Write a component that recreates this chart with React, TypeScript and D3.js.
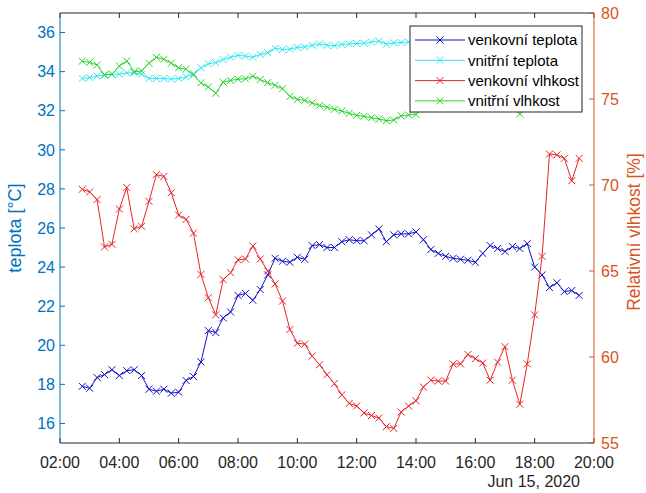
import React from "react";
import * as d3 from "d3";

// 15-minute samples starting 02:45, Jun 15 2020
const startTime = new Date(2020, 5, 15, 2, 45);
const sampleCount = 68;

const venkovniTeplota = [
  17.9, 17.8, 18.35, 18.5, 18.75, 18.45, 18.7, 18.75, 18.45, 17.75,
  17.65, 17.75, 17.55, 17.6, 18.2, 18.4, 19.15, 20.75, 20.65, 21.4,
  21.7, 22.55, 22.65, 22.3, 22.85, 23.6, 24.45, 24.3, 24.25, 24.5,
  24.4, 25.1, 25.15, 25.0, 25.0, 25.3, 25.4, 25.35, 25.35, 25.65,
  25.95, 25.3, 25.65, 25.7, 25.7, 25.8, 25.4, 24.9, 24.7, 24.55,
  24.45, 24.4, 24.35, 24.25, 24.7, 25.1, 24.95, 24.8, 25.05, 24.95,
  25.2, 24.0, 23.6, 22.95, 23.2, 22.75, 22.8, 22.55,
];

const vnitrniTeplota = [
  33.65, 33.7, 33.77, 33.82, 33.87, 33.87, 33.94, 33.94, 33.87, 33.65,
  33.65, 33.65, 33.62, 33.65, 33.73, 33.9, 34.2, 34.4, 34.46, 34.62,
  34.74, 34.83, 34.8, 34.74, 34.88, 34.97, 35.2, 35.13, 35.15, 35.24,
  35.26, 35.35, 35.42, 35.35, 35.33, 35.39, 35.42, 35.44, 35.45, 35.51,
  35.57, 35.4, 35.47, 35.49, 35.52, 35.5, 35.55, 35.5, 35.55, 35.6,
  35.55, 35.6, 35.6, 35.55, 35.6, 35.55, 35.5, 35.45, 35.4, 35.35,
  35.3, 35.2, 35.1, 35.0, 34.95, 34.9, 34.85, 34.8,
];

const venkovniVlhkost = [
  69.75, 69.6, 69.15, 66.4, 66.55, 68.6, 69.85, 67.45, 67.6, 69.05,
  70.6, 70.5, 69.55, 68.25, 68.0, 67.2, 64.8, 63.45, 62.45, 64.5,
  64.9, 65.65, 65.7, 66.45, 65.7, 65.0, 64.25, 63.25, 61.6, 60.8,
  60.75, 60.05, 59.55, 58.97, 58.45, 57.8, 57.3, 57.15, 56.75, 56.6,
  56.45, 55.95, 55.85, 56.8, 57.15, 57.45, 58.25, 58.65, 58.6, 58.6,
  59.6, 59.6, 60.15, 59.9, 59.65, 58.65, 59.7, 60.6, 58.65, 57.25,
  59.6, 62.45, 65.85, 71.8, 71.75, 71.55, 70.25, 71.55,
];

const vnitrniVlhkost = [
  77.2, 77.13, 76.98, 76.4, 76.44, 76.92, 77.21, 76.59, 76.63, 77.08,
  77.42, 77.31, 77.08, 76.82, 76.73, 76.4, 75.94, 75.7, 75.33, 75.98,
  76.08, 76.15, 76.18, 76.32, 76.13, 75.95, 75.8, 75.6, 75.15, 74.98,
  74.92, 74.77, 74.62, 74.52, 74.4, 74.3, 74.17, 74.05, 73.99, 73.91,
  73.84, 73.74, 73.78, 74.01, 74.07, 74.1, 74.5, 74.6, 74.7, 74.7,
  74.75, 74.7, 74.7, 74.65, 74.6, 74.6, 74.55, 74.5, 74.5, 74.13,
  74.5, 74.55, 74.6, 74.6, 74.65, 74.6, 74.6, 74.6,
];

const leftTicks = [16, 18, 20, 22, 24, 26, 28, 30, 32, 34, 36];
const rightTicks = [55, 60, 65, 70, 75, 80];
const xTickHours = [2, 4, 6, 8, 10, 12, 14, 16, 18, 20];
const legendLabels = ["venkovní teplota", "vnitřní teplota", "venkovní vlhkost", "vnitřní vlhkost"];
const dateLabel = "Jun 15, 2020";
const leftLabel = "teplota [°C]";
const rightLabel = "Relativní vlhkost [%]";

const FONT = "'Liberation Sans', Arial, Helvetica, sans-serif";
const LEFT_COLOR = "#0072BD";
const RIGHT_COLOR = "#D95319";

export default function App() {
  const W = 646, H = 493;
  const L = 60, R = 594, T = 13, B = 443;

  const times = d3.range(sampleCount).map((i) => d3.timeMinute.offset(startTime, 15 * i));
  const x = d3.scaleTime()
    .domain([new Date(2020, 5, 15, 2, 0), new Date(2020, 5, 15, 20, 0)])
    .range([L, R]);
  const yL = d3.scaleLinear().domain([15, 37]).range([B, T]);
  const yR = d3.scaleLinear().domain([55, 80]).range([B, T]);
  const fmt = d3.timeFormat("%H:%M");
  const xTicks = xTickHours.map((h) => new Date(2020, 5, 15, h, 0));

  const series = [
    { label: legendLabels[0], values: venkovniTeplota, y: yL, color: "#1010c8" },
    { label: legendLabels[1], values: vnitrniTeplota, y: yL, color: "#2ee6f2" },
    { label: legendLabels[2], values: venkovniVlhkost, y: yR, color: "#e8242a" },
    { label: legendLabels[3], values: vnitrniVlhkost, y: yR, color: "#28d428" },
  ];

  const m = 3.5;
  const xMark = (cx: number, cy: number) =>
    `M${cx - m},${cy - m}L${cx + m},${cy + m}M${cx - m},${cy + m}L${cx + m},${cy - m}`;

  const legX = 410, legY = 26, legW = 172, legH = 86;
  const rowH = 20.3;

  return (
    <svg width={W} height={H} style={{ position: "absolute", left: 0, top: 0, background: "#fff" }} fontFamily={FONT}>
      <rect x={0} y={0} width={W} height={H} fill="#fff" />
      <clipPath id="plotclip">
        <rect x={L} y={T} width={R - L} height={B - T} />
      </clipPath>

      {/* series */}
      <g clipPath="url(#plotclip)">
        {series.map((s, si) => {
          const line = d3.line<number>()
            .x((_, i) => x(times[i]))
            .y((v) => s.y(v));
          const marks = s.values.map((v, i) => xMark(x(times[i]), s.y(v))).join("");
          return (
            <g key={si}>
              <path d={line(s.values) || ""} fill="none" stroke={s.color} strokeWidth={1} />
              <path d={marks} fill="none" stroke={s.color} strokeWidth={1} />
            </g>
          );
        })}
      </g>

      {/* top box line */}
      <line x1={L} x2={R} y1={T} y2={T} stroke="#262626" strokeWidth={1} />
      {/* bottom axis */}
      <line x1={L} x2={R} y1={B} y2={B} stroke="#262626" strokeWidth={1} />
      {xTicks.map((t, i) => (
        <g key={i}>
          <line x1={x(t)} x2={x(t)} y1={B} y2={B - 5} stroke="#262626" />
          <line x1={x(t)} x2={x(t)} y1={T} y2={T + 5} stroke="#262626" />
          <text x={x(t)} y={468} textAnchor="middle" fontSize={16} fill="#262626">{fmt(t)}</text>
        </g>
      ))}
      <text x={580} y={487} textAnchor="end" fontSize={16} fill="#262626">{dateLabel}</text>

      {/* left axis */}
      <line x1={L} x2={L} y1={T} y2={B} stroke={LEFT_COLOR} strokeWidth={1} />
      {leftTicks.map((v) => (
        <g key={v}>
          <line x1={L} x2={L + 5} y1={yL(v)} y2={yL(v)} stroke={LEFT_COLOR} />
          <text x={55} y={yL(v)} dy="0.36em" textAnchor="end" fontSize={16} fill={LEFT_COLOR}>{v}</text>
        </g>
      ))}
      <text transform={`translate(21,${(T + B) / 2}) rotate(-90)`} textAnchor="middle" fontSize={18} fill={LEFT_COLOR}>{leftLabel}</text>

      {/* right axis */}
      <line x1={R} x2={R} y1={T} y2={B} stroke={RIGHT_COLOR} strokeWidth={1} />
      {rightTicks.map((v) => (
        <g key={v}>
          <line x1={R} x2={R - 5} y1={yR(v)} y2={yR(v)} stroke={RIGHT_COLOR} />
          <text x={601} y={yR(v)} dy="0.36em" textAnchor="start" fontSize={16} fill={RIGHT_COLOR}>{v}</text>
        </g>
      ))}
      <text transform={`translate(640,${(T + B) / 2 + 4}) rotate(-90)`} textAnchor="middle" fontSize={17.5} fill={RIGHT_COLOR}>{rightLabel}</text>

      {/* legend */}
      <rect x={legX} y={legY} width={legW} height={legH} fill="#fff" stroke="#262626" strokeWidth={1} />
      {series.map((s, i) => {
        const cy = legY + 14 + i * rowH;
        return (
          <g key={i}>
            <line x1={legX + 5} x2={legX + 55} y1={cy} y2={cy} stroke={s.color} strokeWidth={1} />
            <path d={xMark(legX + 30, cy)} stroke={s.color} strokeWidth={1} fill="none" />
            <text x={legX + 58} y={cy} dy="0.36em" fontSize={15} fill="#000">{s.label}</text>
          </g>
        );
      })}
    </svg>
  );
}
